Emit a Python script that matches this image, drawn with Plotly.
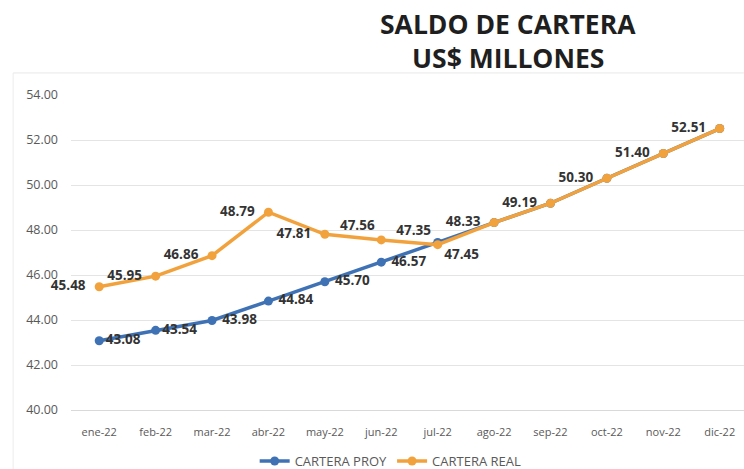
import plotly.graph_objects as go

months = ["ene-22", "feb-22", "mar-22", "abr-22", "may-22", "jun-22",
          "jul-22", "ago-22", "sep-22", "oct-22", "nov-22", "dic-22"]
proy = [43.08, 43.54, 43.98, 44.84, 45.70, 46.57, 47.45,
        48.33, 49.19, 50.30, 51.40, 52.51]
real = [45.48, 45.95, 46.86, 48.79, 47.81, 47.56, 47.35,
        48.33, 49.19, 50.30, 51.40, 52.51]
proy_labelled = 7  # labels shown for first 7 projected points

NB = "\u00a0"
proy_pad = [0, 0, 1, 1, 1, 1, 0, 0, 0, 0, 0, 0]
real_pad = [2, 2, 2, 2, 2, 0, 0, 2, 2, 2, 2, 2]
proy_text = [(NB * p + f"{v:.2f}") if i < proy_labelled else ""
             for i, (v, p) in enumerate(zip(proy, proy_pad))]
real_text = [f"{v:.2f}" + NB * p for v, p in zip(real, real_pad)]

proy_pos = ["middle right"] * 6 + ["bottom right"] + ["middle right"] * 5
real_pos = ["middle left"] * 5 + ["top left", "top left"] + ["middle left"] * 5

BLUE = "#3f72b5"
ORANGE = "#f2a23c"
LBL = dict(family="Open Sans", size=13.5, color="#333333", weight="bold")

fig = go.Figure()
fig.add_trace(go.Scatter(
    x=months, y=proy, name="CARTERA PROY", mode="lines+markers+text",
    line=dict(color=BLUE, width=3.5), marker=dict(color=BLUE, size=9),
    text=proy_text, textposition=proy_pos, textfont=LBL, cliponaxis=False,
))
fig.add_trace(go.Scatter(
    x=months, y=real, name="CARTERA REAL", mode="lines+markers+text",
    line=dict(color=ORANGE, width=3.5), marker=dict(color=ORANGE, size=9),
    text=real_text, textposition=real_pos, textfont=LBL, cliponaxis=False,
))

TITLE_FONT = dict(family="Open Sans", size=26.5, color="#1f1f1f", weight="bold")

fig.update_layout(
    width=744, height=469,
    margin=dict(l=71, r=0, t=95, b=59, autoexpand=False),
    paper_bgcolor="white", plot_bgcolor="white",
    xaxis=dict(
        type="category", range=[-0.5, 11.43],
        showgrid=False, showline=True, linecolor="#d9d9d9", linewidth=1,
        ticks="", tickfont=dict(family="Open Sans", size=11, color="#595959"),
        ticklabelstandoff=12,
    ),
    yaxis=dict(
        range=[40, 54], dtick=2, tickformat=".2f",
        showgrid=True, gridcolor="#e4e4e4", gridwidth=1, zeroline=False,
        ticks="", tickfont=dict(family="Open Sans", size=12.5, color="#595959"),
        ticklabelstandoff=12,
    ),
    legend=dict(
        orientation="h", x=0.475, xanchor="center", y=-0.162, yanchor="middle",
        font=dict(family="Open Sans", size=13, color="#595959"),
        bgcolor="rgba(0,0,0,0)",
    ),
    showlegend=True,
    annotations=[
        dict(text="SALDO DE CARTERA", xref="paper", yref="paper",
             x=0.649, y=1.225, xanchor="center", yanchor="middle",
             showarrow=False, font=TITLE_FONT),
        dict(text="US$ MILLONES", xref="paper", yref="paper",
             x=0.649, y=1.117, xanchor="center", yanchor="middle",
             showarrow=False, font=TITLE_FONT),
    ],
    shapes=[
        dict(type="line", xref="paper", yref="paper",
             x0=-0.086, x1=1.0, y0=1.07, y1=1.07,
             line=dict(color="#e8e8e8", width=1)),
        dict(type="line", xref="paper", yref="paper",
             x0=-0.086, x1=-0.086, y0=1.07, y1=-0.19,
             line=dict(color="#ececec", width=1)),
    ],
)

fig.write_html("out.html", config={"displayModeBar": False},
               post_script="document.body.style.margin='0';")
